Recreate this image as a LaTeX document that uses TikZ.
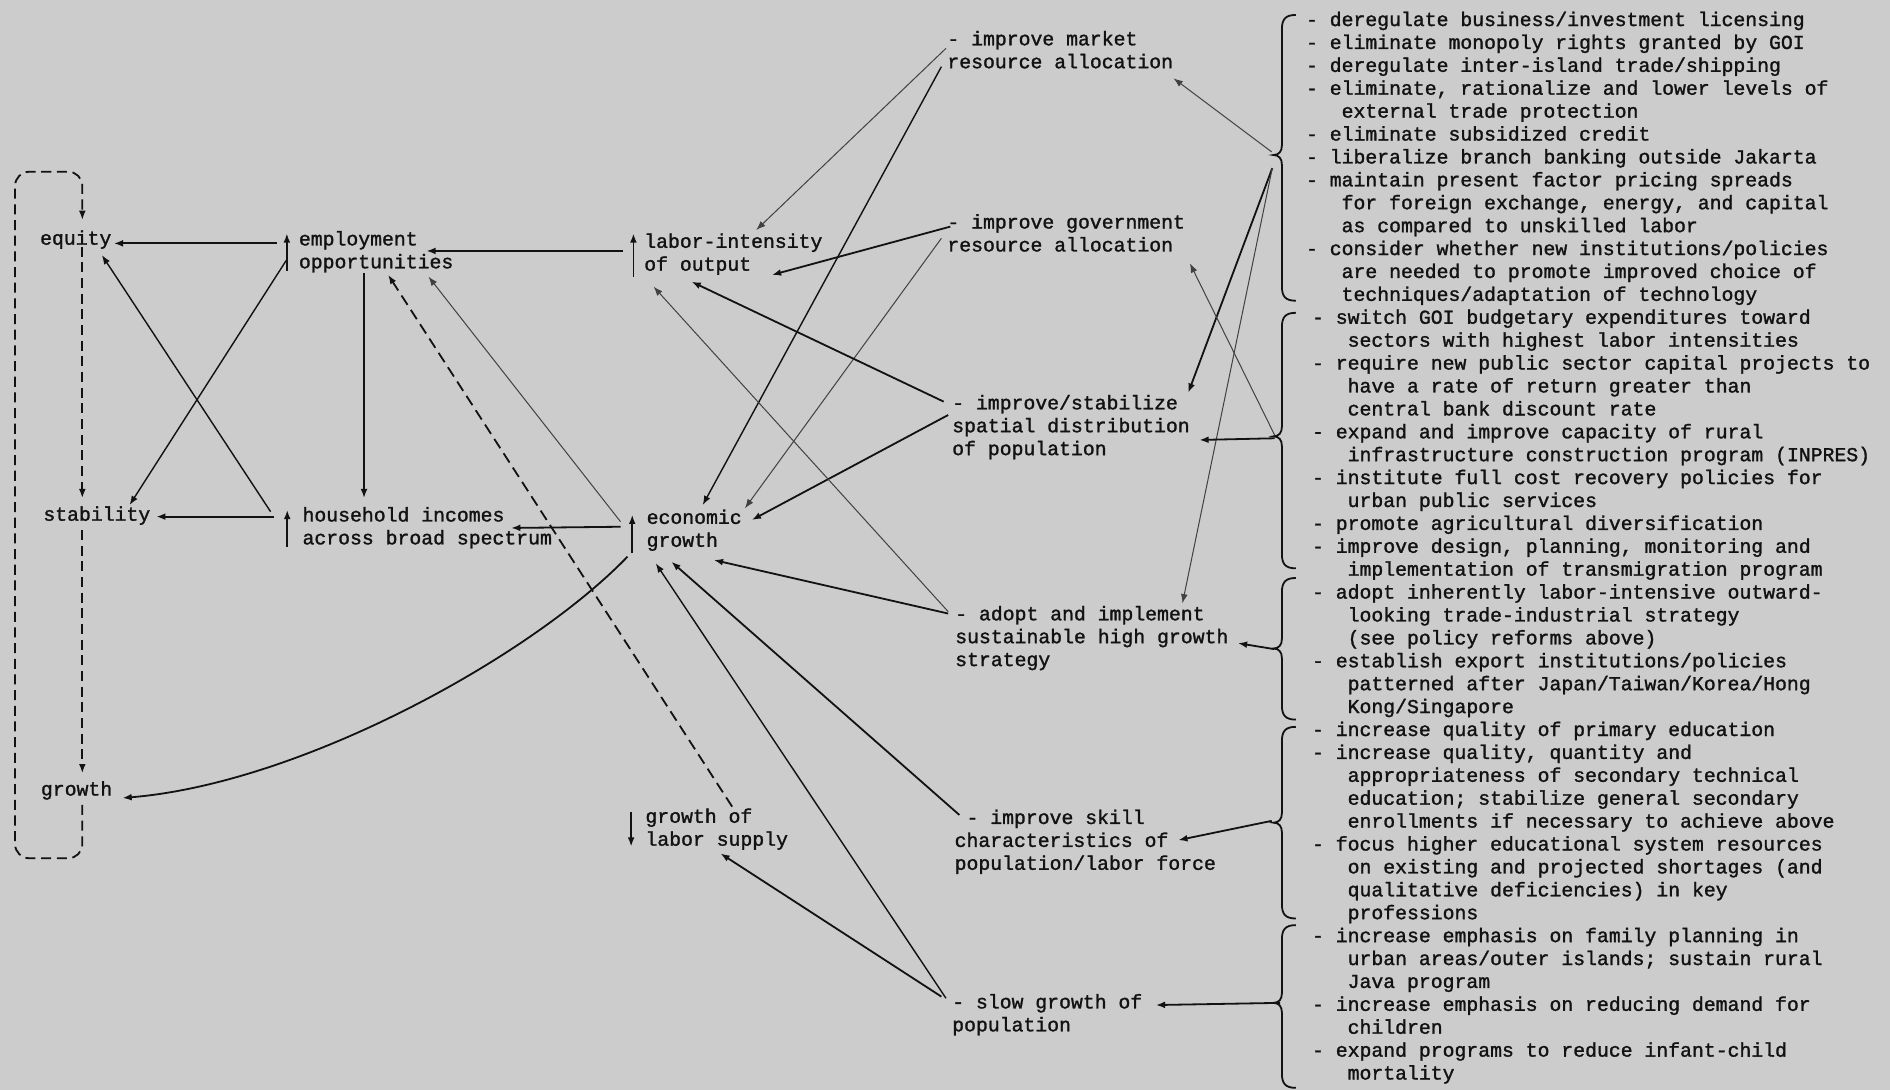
\documentclass[tikz,border=0pt]{standalone}
\usepackage{fontspec}
\newfontfamily\tw[FakeBold=1.4]{Liberation Mono}
\usetikzlibrary{arrows.meta,calc}
\definecolor{paper}{RGB}{204,204,204}
\definecolor{ink}{RGB}{18,18,18}
\newcommand\cind{\hspace*{1.8em}}
\newcommand\mybrace[3]{%
 \draw[brc] (1075,#1) .. controls (1066,#1) and (1063.5,{#1+4}) .. (1063.5,{#1+12})
   -- (1063.5,{#2-8}) .. controls (1063.5,{#2-3}) and (1061,#2) .. (1056.5,#2)
   .. controls (1061,#2) and (1063.5,{#2+3}) .. (1063.5,{#2+8})
   -- (1063.5,{#3-12}) .. controls (1063.5,{#3-4}) and (1066,#3) .. (1075,#3);}
\tikzset{
  txt/.style={font=\tw\fontsize{9.85}{11.4}\selectfont\frenchspacing, inner sep=0pt, outer sep=0pt,
    anchor=north west, align=left, text=ink,
    execute at begin node=\strut, execute at end node=\strut},
  arr/.style={draw=ink, line width=0.9pt, -{Latex[length=4.6pt,width=3.4pt]}},
  thinarr/.style={arr, line width=0.5pt, draw=ink!80},
  midarr/.style={arr, line width=0.7pt},
  dsh/.style={dash pattern=on 5pt off 2.8pt},
  brc/.style={draw=ink, line width=0.9pt},
}
\begin{document}
\begin{tikzpicture}[x=0.6pt,y=-0.6pt]
\fill[paper] (0,0) rectangle (1568,904);
\useasboundingbox (0,0) rectangle (1568,904);

% ---------- left and centre nodes ----------
\node[txt] (equity) at (33.3,189.7) {equity};
\node[txt] (emp) at (248,191.7) {employment\\opportunities};
\node[txt] (li) at (534.5,193.7) {labor-intensity\\of output};
\node[txt] (stab) at (36,418.7) {stability};
\node[txt] (hh) at (251,420.7) {household incomes\\across broad spectrum};
\node[txt] (eg) at (536.5,422.7) {economic\\growth};
\node[txt] (gr) at (34,646.7) {growth};
\node[txt] (ls) at (535.5,670.7) {growth of\\labor supply};

% ---------- policy nodes ----------
\node[txt] (mkt) at (786,25.7) {- improve market\\resource allocation};
\node[txt] (gov) at (786,177.7) {- improve government\\resource allocation};
\node[txt] (stz) at (790,327.7) {- improve/stabilize\\spatial distribution\\of population};
\node[txt] (adp) at (792.5,502.7) {- adopt and implement\\sustainable high growth\\strategy};
\node[txt] (skl) at (792,671.7) {\hspace*{0.6em}- improve skill\\characteristics of\\population/labor force};
\node[txt] (slw) at (790,824.7) {- slow growth of\\population};

% ---------- right column ----------
\node[txt] (blk1) at (1083.5,9.7) {- deregulate business/investment licensing\\
- eliminate monopoly rights granted by GOI\\
- deregulate inter-island trade/shipping\\
- eliminate, rationalize and lower levels of\\
\cind external trade protection\\
- eliminate subsidized credit\\
- liberalize branch banking outside Jakarta\\
- maintain present factor pricing spreads\\
\cind for foreign exchange, energy, and capital\\
\cind as compared to unskilled labor\\
- consider whether new institutions/policies\\
\cind are needed to promote improved choice of\\
\cind techniques/adaptation of technology};
\node[txt] (blk2) at (1088.5,256.7) {- switch GOI budgetary expenditures toward\\
\cind sectors with highest labor intensities\\
- require new public sector capital projects to\\
\cind have a rate of return greater than\\
\cind central bank discount rate\\
- expand and improve capacity of rural\\
\cind infrastructure construction program (INPRES)\\
- institute full cost recovery policies for\\
\cind urban public services\\
- promote agricultural diversification\\
- improve design, planning, monitoring and\\
\cind implementation of transmigration program};
\node[txt] (blk3) at (1088.5,484.7) {- adopt inherently labor-intensive outward-\\
\cind looking trade-industrial strategy\\
\cind (see policy reforms above)\\
- establish export institutions/policies\\
\cind patterned after Japan/Taiwan/Korea/Hong\\
\cind Kong/Singapore};
\node[txt] (blk4) at (1088.5,598.7) {- increase quality of primary education\\
- increase quality, quantity and\\
\cind appropriateness of secondary technical\\
\cind education; stabilize general secondary\\
\cind enrollments if necessary to achieve above\\
- focus higher educational system resources\\
\cind on existing and projected shortages (and\\
\cind qualitative deficiencies) in key\\
\cind professions};
\node[txt] (blk5) at (1088.5,769.7) {- increase emphasis on family planning in\\
\cind urban areas/outer islands; sustain rural\\
\cind Java program\\
- increase emphasis on reducing demand for\\
\cind children\\
- expand programs to reduce infant-child\\
\cind mortality};

% ---------- braces ----------
\mybrace{12.4}{128.6}{249.5}
\mybrace{259.5}{362}{471.5}
\mybrace{479.5}{538}{597}
\mybrace{603}{682.5}{762}
\mybrace{767.5}{832}{902.5}
\coordinate (b1) at (1055,126);
\coordinate (b1a) at (1055.5,139.5);
\coordinate (b2) at (1057.5,361);
\coordinate (b2h) at (1057.5,363.6);
\coordinate (b3) at (1057,538.5);
\coordinate (b4) at (1055,681);
\coordinate (b5) at (1062,832);

% ---------- small up/down arrows ----------
\draw[arr] ($(emp.north west)+(-10,32.9)$) -- ($(emp.north west)+(-10,1.9)$);
\draw[arr] ($(li.north west)+(-9,35.8)$) -- ($(li.north west)+(-9,-0.1)$);
\draw[arr] ($(hh.north west)+(-12.7,32.8)$) -- ($(hh.north west)+(-12.7,2.3)$);
\draw[arr] ($(eg.north west)+(-12,36.3)$) -- ($(eg.north west)+(-12,4.3)$);
\draw[arr] ($(ls.north west)+(-11.9,2.7)$) -- ($(ls.north west)+(-11.9,31.7)$);

% ---------- dashed loop ----------
\draw[arr,dsh,rounded corners=7pt] ($(gr.north west)+(34.3,21.1)$) -- ++(0,44.2) -- ++(-55.8,0)
  -- ++(0,-569.5) -- ++(55.8,0) -- ($(equity.north west)+(35,-7.2)$);
\draw[arr,dsh] ($(equity.north west)+(35,14.9)$) -- ($(stab.north west)+(32.3,-5.4)$);
\draw[arr,dsh] ($(stab.north west)+(32.3,21)$) -- ($(gr.north west)+(34.3,-5.2)$);

% ---------- left connectors ----------
\draw[arr] ($(emp.north west)+(-18.4,10.2)$) -- ($(equity.north west)+(61.1,12.2)$);
\draw[arr] ($(li.north west)+(-17.9,14.5)$) -- ($(emp.north west)+(105.7,16.5)$);
\draw[arr] ($(emp.north west)+(54,35.1)$) -- ($(hh.north west)+(51,-7.4)$);
\draw[midarr] ($(emp.north west)+(-10.5,24.3)$) -- ($(stab.north west)+(71.5,0.3)$);
\draw[midarr] ($(hh.north west)+(-26.5,3.8)$) -- ($(equity.north west)+(51.2,21.9)$);
\draw[arr] ($(hh.north west)+(-23.3,7.9)$) -- ($(stab.north west)+(93.6,9.9)$);
\draw[arr] ($(eg.north west)+(-21.7,14.3)$) -- ($(hh.north west)+(173,17.3)$);
\draw[thinarr] ($(eg.north west)+(-21.7,10.1)$) -- ($(emp.north west)+(107.5,37.8)$);
\draw[arr,dash pattern=on 5.5pt off 3pt] ($(ls.north west)+(71.9,-1.5)$) -- ($(emp.north west)+(74,36.3)$);
\coordinate (c10s) at ($(eg.north west)+(-15.9,39.1)$);
\coordinate (c10e) at ($(gr.north west)+(67.6,15.3)$);
\draw[arr] (c10s) .. controls ($(c10s)+(-80,83)$) and ($(c10e)+(148,-12)$) .. (c10e);

% ---------- centre connectors ----------
\draw[thinarr] ($(mkt.north west)+(-1.2,14.4)$) -- ($(li.north west)+(92.9,-2.9)$);
\draw[midarr] ($(mkt.north west)+(-5,29.6)$) -- ($(eg.north west)+(46.5,-3.7)$);
\draw[arr] ($(gov.north west)+(2.4,10.3)$) -- ($(li.north west)+(105.9,34.4)$);
\draw[thinarr] ($(gov.north west)+(-5,20)$) -- ($(eg.north west)+(81.5,-1)$);
\draw[arr] ($(stz.north west)+(-7.1,5.5)$) -- ($(li.north west)+(39.2,40)$);
\draw[arr] ($(stz.north west)+(-3.4,16.6)$) -- ($(eg.north west)+(87.2,8.7)$);
\draw[thinarr] ($(adp.north west)+(-5.9,4.7)$) -- ($(li.north west)+(7.7,44.1)$);
\draw[arr] ($(adp.north west)+(-5.9,6.3)$) -- ($(eg.north west)+(55.7,41.9)$);
\draw[arr] ($(skl.north west)+(3.9,4.4)$) -- ($(eg.north west)+(20.5,43.3)$);
\draw[midarr] ($(slw.north west)+(-5.2,3.5)$) -- ($(eg.north west)+(7.5,44.6)$);
\draw[arr] ($(slw.north west)+(-9,2.1)$) -- ($(ls.north west)+(62.2,37.3)$);

% ---------- brace connectors ----------
\draw[thinarr] (b1) -- ($(mkt.north west)+(187.6,39.3)$);
\draw[arr] (b1a) -- ($(stz.north west)+(195.8,-1.9)$);
\draw[thinarr] (b1a) -- ($(adp.north west)+(188.5,-2.2)$);
\draw[thinarr] (b2) -- ($(gov.north west)+(201.2,40.8)$);
\draw[arr] (b2h) -- ($(stz.north west)+(205,37.3)$);
\draw[arr] (b3) -- ($(adp.north west)+(234.5,30.9)$);
\draw[arr] (b4) -- ($(skl.north west)+(185.5,25.3)$);
\draw[arr] (b5) -- ($(slw.north west)+(168.9,9.1)$);
\end{tikzpicture}
\end{document}
